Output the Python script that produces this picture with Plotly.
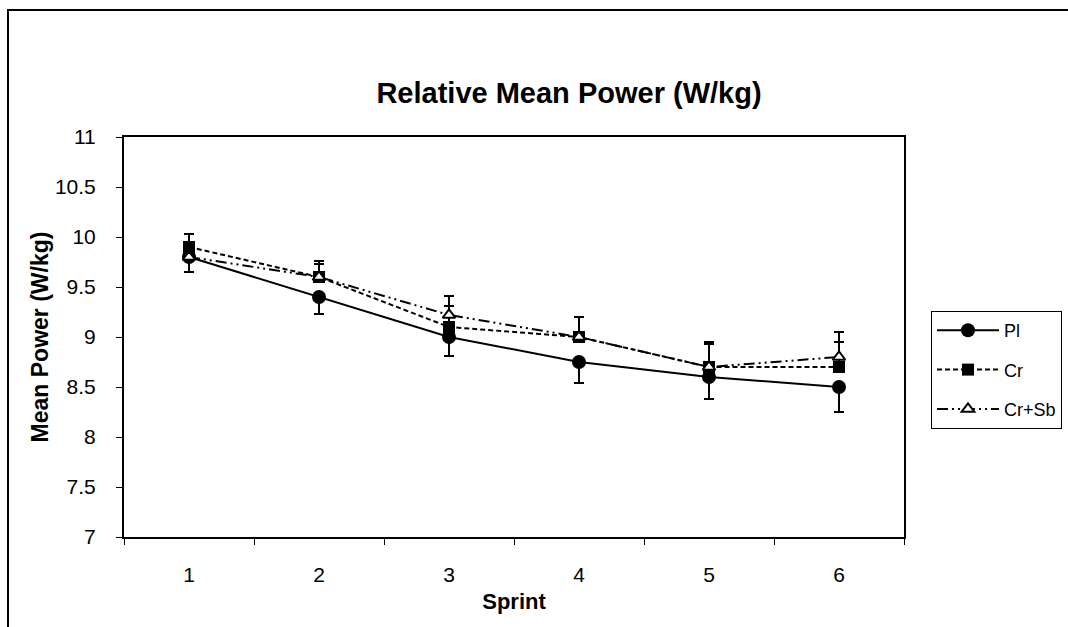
import plotly.graph_objects as go

sprints = ["1", "2", "3", "4", "5", "6"]
pl_mean = [9.8, 9.4, 9.0, 8.75, 8.6, 8.5]
pl_err = [0.15, 0.17, 0.19, 0.21, 0.22, 0.25]
cr_mean = [9.9, 9.6, 9.1, 9.0, 8.7, 8.7]
cr_err = [0.13, 0.16, 0.21, 0.2, 0.25, 0.25]
crsb_mean = [9.8, 9.6, 9.22, 9.0, 8.7, 8.8]
crsb_err = [0.12, 0.13, 0.19, 0.2, 0.23, 0.25]
y_ticks = [7, 7.5, 8, 8.5, 9, 9.5, 10, 10.5, 11]
y_tick_text = ["7", "7.5", "8", "8.5", "9", "9.5", "10", "10.5", "11"]

FONT = "Liberation Sans, Arial, sans-serif"
zeros = [0] * len(sprints)

fig = go.Figure()
fig.add_trace(go.Scatter(
    x=sprints, y=pl_mean, name="Pl", mode="lines+markers",
    line=dict(color="black", width=2, dash="solid"),
    marker=dict(symbol="circle", size=14, color="black"),
    error_y=dict(type="data", symmetric=False, array=zeros, arrayminus=pl_err,
                 color="black", thickness=2, width=5),
    legendgroup="a",
))
fig.add_trace(go.Scatter(
    x=sprints, y=cr_mean, name="Cr", mode="lines+markers",
    line=dict(color="black", width=2, dash="5px,3px"),
    marker=dict(symbol="square", size=12, color="black"),
    error_y=dict(type="data", symmetric=False, array=cr_err, arrayminus=zeros,
                 color="black", thickness=2, width=5),
    legendgroup="b",
))
fig.add_trace(go.Scatter(
    x=sprints, y=crsb_mean, name="Cr+Sb", mode="lines+markers",
    line=dict(color="black", width=2, dash="11px,4px,2px,4px,2px,4px"),
    marker=dict(symbol="triangle-up", size=11, color="white",
                line=dict(color="black", width=2)),
    error_y=dict(type="data", symmetric=False, array=crsb_err, arrayminus=zeros,
                 color="black", thickness=2, width=5),
    legendgroup="c",
))

fig.update_layout(
    width=1068, height=627,
    margin=dict(l=124, r=164, t=137, b=90, autoexpand=False),
    paper_bgcolor="white", plot_bgcolor="white",
    font=dict(family=FONT, color="black"),
    title=dict(text="<b>Relative Mean Power (W/kg)</b>", x=569 / 1068, xanchor="center",
               y=1 - 93 / 627, yanchor="middle", font=dict(size=29, family=FONT)),
    showlegend=True,
    legend=dict(x=(931 - 124) / 780, xanchor="left", y=(537 - 311) / 400, yanchor="top",
                bordercolor="black", borderwidth=1, bgcolor="white",
                font=dict(size=18, family=FONT), tracegroupgap=13, itemwidth=62),
    xaxis=dict(
        type="category", range=[-0.5, 5.5], tickson="boundaries",
        ticks="outside", ticklen=6, tickwidth=1, tickcolor="black",
        showline=True, linecolor="black", linewidth=2, mirror=True,
        showgrid=False, zeroline=False,
        tickfont=dict(size=21, family=FONT), ticklabelstandoff=18,
        title=dict(text="<b>Sprint</b>", font=dict(size=22, family=FONT), standoff=8),
    ),
    yaxis=dict(
        range=[7, 11], tickvals=y_ticks, ticktext=y_tick_text,
        ticks="outside", ticklen=6, tickwidth=1, tickcolor="black",
        showline=True, linecolor="black", linewidth=2, mirror=True,
        showgrid=False, zeroline=False,
        tickfont=dict(size=21, family=FONT), ticklabelstandoff=16,
        title=dict(text="<b>Mean Power (W/kg)</b>", font=dict(size=23, family=FONT), standoff=0),
    ),
    shapes=[dict(type="rect", xref="paper", yref="paper",
                 x0=(8 - 124) / 780, x1=(1080 - 124) / 780,
                 y0=(537 - 640) / 400, y1=(537 - 10) / 400,
                 line=dict(color="black", width=2), fillcolor="rgba(0,0,0,0)", layer="below")],
)

fig.write_html("out.html")
